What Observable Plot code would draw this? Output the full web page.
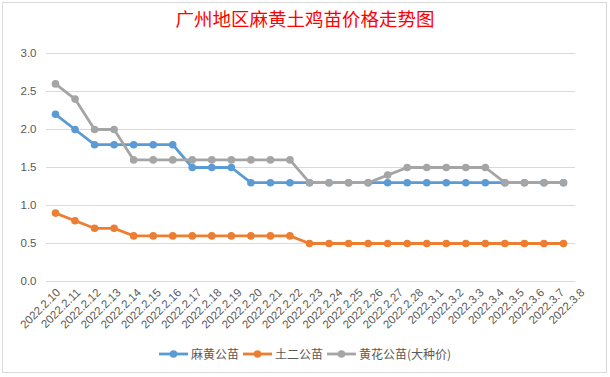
<!DOCTYPE html>
<html>
<head>
<meta charset="utf-8">
<script src="https://cdn.jsdelivr.net/npm/d3@7"></script>
<script src="https://cdn.jsdelivr.net/npm/@observablehq/plot@0.6"></script>
<style>
  html, body { margin: 0; padding: 0; background: #fff; }
  #wrap { position: relative; width: 610px; height: 377px; overflow: hidden; font-family: "Noto Sans CJK SC", "Liberation Sans", sans-serif; }
  #frame { position: absolute; left: 2px; top: 2px; width: 605px; height: 371px; border: 1px solid #d9d9d9; box-sizing: border-box; }
  #title { position: absolute; left: 0; width: 610px; top: 6px; text-align: center; color: #ff0000; font-size: 18.5px; font-family: "Noto Sans CJK SC", sans-serif; line-height: 24px; }
  #legend { position: absolute; left: 159px; top: 345px; display: flex; align-items: center; font-size: 12px; color: #595959; font-family: "Noto Sans CJK SC", sans-serif; white-space: nowrap; }
  .item { display: flex; align-items: center; margin-right: 4px; }
  .item svg { margin-right: 3px; }
  #chart { position: absolute; left: 0; top: 0; }
</style>
</head>
<body>
<div id="wrap">
  <div id="frame"></div>
  <div id="chart"></div>
  <div id="title">广州地区麻黄土鸡苗价格走势图</div>
  <div id="legend"></div>
</div>
<script>
const dates = ["2022.2.10","2022.2.11","2022.2.12","2022.2.13","2022.2.14","2022.2.15","2022.2.16","2022.2.17","2022.2.18","2022.2.19","2022.2.20","2022.2.21","2022.2.22","2022.2.23","2022.2.24","2022.2.25","2022.2.26","2022.2.27","2022.2.28","2022.3.1","2022.3.2","2022.3.3","2022.3.4","2022.3.5","2022.3.6","2022.3.7","2022.3.8"];
const seriesNames = ["麻黄公苗", "土二公苗", "黄花公苗(大种价)"];
const mahuang = [2.2,2.0,1.8,1.8,1.8,1.8,1.8,1.5,1.5,1.5,1.3,1.3,1.3,1.3,1.3,1.3,1.3,1.3,1.3,1.3,1.3,1.3,1.3,1.3,1.3,1.3,1.3];
const tuer    = [0.9,0.8,0.7,0.7,0.6,0.6,0.6,0.6,0.6,0.6,0.6,0.6,0.6,0.5,0.5,0.5,0.5,0.5,0.5,0.5,0.5,0.5,0.5,0.5,0.5,0.5,0.5];
const huanghua= [2.6,2.4,2.0,2.0,1.6,1.6,1.6,1.6,1.6,1.6,1.6,1.6,1.6,1.3,1.3,1.3,1.3,1.4,1.5,1.5,1.5,1.5,1.5,1.3,1.3,1.3,1.3];
const yTicks = [0,0.5,1.0,1.5,2.0,2.5,3.0];
const colors = ["#5b9bd5", "#ed7d31", "#a5a5a5"];

const seriesValues = [mahuang, tuer, huanghua];
const data = [];
seriesValues.forEach((vals, si) => vals.forEach((v, i) => data.push({date: dates[i], value: v, series: seriesNames[si]})));

const marks = [
  Plot.gridY(yTicks, {stroke: "#d9d9d9", strokeOpacity: 1, strokeWidth: 1}),
  Plot.axisY(yTicks, {tickSize: 0, tickPadding: 10, tickFormat: d => d.toFixed(1), fill: "#595959", fontSize: 11.5}),
  Plot.axisX({ticks: [], label: null})
];
// category labels, rotated like the spreadsheet's axis (slight spread toward the right)
dates.forEach((d, i) => {
  marks.push(Plot.text([d], {
    x: v => v, frameAnchor: "bottom", dy: 9, dx: 3 + i * 0.62,
    rotate: -45, textAnchor: "end", lineAnchor: "middle",
    fill: "#595959", fontSize: 11.5
  }));
});
seriesNames.forEach((name, si) => {
  const d = data.filter(r => r.series === name);
  marks.push(Plot.line(d, {x: "date", y: "value", stroke: colors[si], strokeWidth: 2.8}));
  marks.push(Plot.dot(d, {x: "date", y: "value", fill: colors[si], r: 3.8}));
});

const chart = Plot.plot({
  width: 610,
  height: 377,
  marginLeft: 46,
  marginRight: 35,
  marginTop: 53,
  marginBottom: 96,
  style: {fontFamily: "'Liberation Sans', 'DejaVu Sans', sans-serif", background: "transparent"},
  x: {type: "point", domain: dates, range: [55, 563], padding: 0, round: false, label: null},
  y: {domain: [0, 3], label: null},
  marks
});
document.getElementById("chart").appendChild(chart);

const legend = document.getElementById("legend");
seriesNames.forEach((name, si) => {
  const item = document.createElement("div");
  item.className = "item";
  item.innerHTML = `<svg width="29" height="10"><line x1="0" y1="5" x2="29" y2="5" stroke="${colors[si]}" stroke-width="2.8"/><circle cx="14.5" cy="5" r="3.8" fill="${colors[si]}"/></svg><span>${name}</span>`;
  legend.appendChild(item);
});
</script>
</body>
</html>
